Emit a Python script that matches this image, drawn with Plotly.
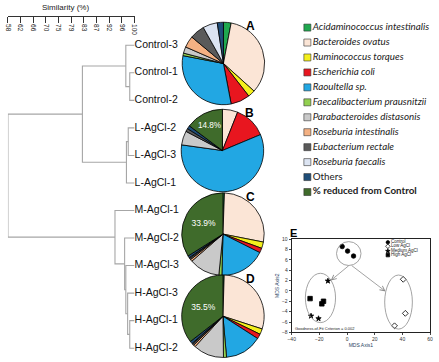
import plotly.graph_objects as go

W, H = 439, 362

# ---------------- Dendrogram data ----------------
leaf_labels = ["Control-3", "Control-1", "Control-2", "L-AgCl-2", "L-AgCl-3", "L-AgCl-1",
               "M-AgCl-1", "M-AgCl-2", "M-AgCl-3", "H-AgCl-3", "H-AgCl-1", "H-AgCl-2"]
merge_a = ["Control-1", "Control-3", "L-AgCl-2", "n3", "n2", "H-AgCl-1", "H-AgCl-3",
           "M-AgCl-3", "M-AgCl-2", "M-AgCl-1", "n5"]
merge_b = ["Control-2", "n1", "L-AgCl-3", "L-AgCl-1", "n4", "H-AgCl-2", "n6",
           "n7", "n8", "n9", "n10"]
merge_sim = [98.4, 97.1, 97.9, 97.3, 82.7, 98.4, 97.7, 97.1, 96.7, 93.5, 58.0]
sim_ticks = ["58", "62", "66", "70", "75", "79", "83", "87", "92", "96", "100"]

# ---------------- Pie data ----------------
species = ["<i>Acidaminococcus intestinalis</i>", "<i>Bacteroides ovatus</i>",
           "<i>Ruminococcus torques</i>", "<i>Escherichia coli</i>", "<i>Raoultella sp.</i>",
           "<i>Faecalibacterium prausnitzii</i>", "<i>Parabacteroides distasonis</i>",
           "<i>Roseburia intestinalis</i>", "<i>Eubacterium rectale</i>",
           "<i>Roseburia faecalis</i>", "Others", "<b>% reduced from Control</b>"]
species_colors = ["#1fa84f", "#fbe5d6", "#f4ef1c", "#e8161f", "#22a7e3", "#92d050",
                  "#c9c9c9", "#f4b183", "#5a5a5a", "#dce4f2", "#1f4e79", "#3f6b2b"]
pie_A = [3.0, 33.6, 2.8, 7.5, 31.0, 1.0, 2.5, 4.5, 5.8, 5.7, 2.4, 0]
pie_B = [0, 6.0, 0, 12.7, 58.5, 0, 5.5, 0, 1.2, 0, 1.3, 14.8]
pie_C = [0.6, 27.5, 2.5, 1.8, 18.0, 1.2, 12.0, 0.8, 0.6, 0.3, 0.8, 33.9]
pie_D = [0.5, 29.5, 2.2, 1.9, 14.5, 1.2, 12.0, 0.8, 0.6, 0.3, 1.0, 35.5]
pie_names = ["A", "B", "C", "D"]

# ---------------- MDS data ----------------
mds_groups = ["Control", "Low AgCl", "Medium AgCl", "High AgCl"]
mds_x = [[-3.5, 0.4, 4.7], [40.6, 42.1, 34.3], [-13.8, -26.0, -20.6], [-26.7, -18.2, -17.0]]
mds_y = [[8.55, 7.67, 6.72], [2.24, -4.32, -6.72], [1.92, -4.83, -5.33], [-1.48, -2.49, -1.99]]
mds_symbols = ["circle", "diamond-open", "star", "square"]
mds_sizes = [4.5, 4.5, 4, 4.5]
gof_text = "Goodness-of-Fit Criterion = 0.002"

fig = go.Figure()

# ---- dendrogram geometry from merges ----
pos = {name: (100.0, i) for i, name in enumerate(leaf_labels)}
dx, dy = [], []
for k, (a, b, s) in enumerate(zip(merge_a, merge_b, merge_sim)):
    xa, ya = pos[a]
    xb, yb = pos[b]
    dx += [xa, s, s, xb, None]
    dy += [ya, ya, yb, yb, None]
    pos[f"n{k + 1}"] = (s, (ya + yb) / 2)

fig.add_trace(go.Scatter(x=dx, y=dy, mode="lines", line=dict(color="#a6a6a6", width=1.1),
                         xaxis="x", yaxis="y", showlegend=False, hoverinfo="skip"))
fig.add_trace(go.Scatter(x=[100] * len(leaf_labels), y=list(range(len(leaf_labels))),
                         mode="text", text=leaf_labels, textposition="middle right",
                         textfont=dict(family="Liberation Sans", size=10.5, color="#111"),
                         xaxis="x", yaxis="y", showlegend=False, cliponaxis=False))

# ---- pies ----
pie_centers = [(223.5, 61.5), (222.5, 150), (223, 235), (223, 318.5)]
R = 42
for name, vals, (cx, cy) in zip(pie_names, [pie_A, pie_B, pie_C, pie_D], pie_centers):
    v = [x if x > 0 else None for x in vals]
    txt = [""] * (len(vals) - 1) + [f"{vals[-1]}%" if vals[-1] > 0 else ""]
    fig.add_trace(go.Pie(labels=species, values=v, text=txt, textinfo="text",
                         textposition="inside", insidetextorientation="horizontal",
                         insidetextfont=dict(color="white", size=8.5, family="Liberation Sans"),
                         marker=dict(colors=species_colors, line=dict(color="black", width=0.8)),
                         sort=False, direction="clockwise", rotation=0, showlegend=False,
                         domain=dict(x=[(cx - R) / W, (cx + R) / W],
                                     y=[1 - (cy + R) / H, 1 - (cy - R) / H])))
    fig.add_annotation(x=(cx + 28) / W, y=1 - (cy - 38) / H, xref="paper", yref="paper",
                       text=f"<b>{name}</b>", showarrow=False, xanchor="center",
                       yanchor="middle",
                       font=dict(family="Liberation Sans", size=12, color="black"))

# ---- main legend (manual) ----
fig.add_trace(go.Scatter(x=[9] * len(species), y=list(range(len(species))),
                         mode="markers+text", text=species, textposition="middle right",
                         marker=dict(symbol="square", size=7, color=species_colors,
                                     line=dict(color="#333", width=0.6)),
                         textfont=dict(family="Lato", size=9.8, color="#222"),
                         xaxis="x3", yaxis="y3", showlegend=False, cliponaxis=False,
                         hoverinfo="skip"))

# ---- MDS panel ----
for g, xs, ys, sym, sz in zip(mds_groups, mds_x, mds_y, mds_symbols, mds_sizes):
    fig.add_trace(go.Scatter(x=xs, y=ys, mode="markers", name=g,
                             marker=dict(symbol=sym, size=sz, color="black",
                                         line=dict(color="black", width=0.8)),
                             xaxis="x2", yaxis="y2", showlegend=False))
# inset legend
leg_y = [9.37, 8.6, 7.67, 6.9]
fig.add_trace(go.Scatter(x=[29.5] * 4, y=leg_y, mode="markers+text", text=mds_groups,
                         textposition="middle right",
                         marker=dict(symbol=mds_symbols, size=3.5, color="black",
                                     line=dict(color="black", width=0.7)),
                         textfont=dict(family="Liberation Sans", size=4.5, color="#222"),
                         xaxis="x2", yaxis="y2", showlegend=False, hoverinfo="skip"))

ell = [(-7.6, 4.9, 10.1, 9.5), (-30.1, -6.1, -8.3, 3.4), (27.2, -7.35, 47.2, 3.06)]
shapes = []
for x0, y0, x1, y1 in ell:
    shapes.append(dict(type="circle", xref="x2", yref="y2", x0=x0, y0=y0, x1=x1, y1=y1,
                       line=dict(color="#8c8c8c", width=0.8)))
for tx, ty in [(-11.8, 2.0), (27.9, -0.1)]:
    fig.add_annotation(x=tx, y=ty, ax=2.3, ay=5.1, xref="x2", yref="y2", axref="x2",
                       ayref="y2", showarrow=True, arrowhead=5, arrowsize=1.2,
                       arrowwidth=0.8, arrowcolor="#8c8c8c", text="")
fig.add_annotation(x=-39, y=-7.3, xref="x2", yref="y2", text=gof_text, showarrow=False,
                   xanchor="left", font=dict(family="Liberation Sans", size=4, color="#222"))
fig.add_annotation(x=295 / W, y=1 - 234 / H, xref="paper", yref="paper", text="<b>E</b>",
                   showarrow=False, xanchor="center", yanchor="middle",
                   font=dict(family="Liberation Sans", size=11, color="black"))
fig.add_annotation(x=63 / W, y=1 - 5 / H, xref="paper", yref="paper", text="Similarity (%)",
                   showarrow=False, xanchor="center", yanchor="middle",
                   font=dict(family="Liberation Sans", size=8, color="#222"))

axfont = dict(family="Liberation Sans", size=5, color="#333")
fig.update_layout(
    width=W, height=H, margin=dict(l=0, r=0, t=0, b=0),
    paper_bgcolor="white", plot_bgcolor="rgba(0,0,0,0)", shapes=shapes,
    xaxis=dict(domain=[4 / W, 133 / W], range=[58, 100], side="bottom", anchor="free",
               position=1 - 13 / H,
               tickvals=[58 + i * 42 / (len(sim_ticks) - 1) for i in range(len(sim_ticks))],
               ticktext=sim_ticks, tickangle=90, ticks="outside", ticklen=6,
               tickcolor="#333", showline=True,
               linecolor="#333", linewidth=1, showgrid=False, zeroline=False,
               tickfont=dict(family="Liberation Sans", size=6.5, color="#222")),
    yaxis=dict(domain=[0, 1 - 13 / H], range=[11 + 11 / 28, -30 / 28], visible=False),
    xaxis2=dict(domain=[293 / W, 434 / W], range=[-40, 60], anchor="y2",
                tickvals=[-40, -20, 0, 20, 40, 60], ticks="outside", ticklen=2,
                showline=True, mirror=True, linecolor="#222", linewidth=1,
                showgrid=False, zeroline=False, tickfont=axfont,
                title=dict(text="MDS Axis1", font=dict(family="Liberation Sans", size=5),
                           standoff=2)),
    yaxis2=dict(domain=[1 - 335 / H, 1 - 240 / H], range=[-8, 10], anchor="x2",
                dtick=2, ticks="outside", ticklen=2, showline=True, mirror=True,
                linecolor="#222", linewidth=1, showgrid=False, zeroline=False,
                tickfont=axfont,
                title=dict(text="MDS Axis2", font=dict(family="Liberation Sans", size=5),
                           standoff=2)),
    xaxis3=dict(domain=[300 / W, 1], range=[0, 139], anchor="y3", visible=False),
    yaxis3=dict(domain=[1 - 200 / H, 1 - 17 / H], range=[175 / 15.2, -8 / 15.2],
                anchor="x3", visible=False),
)

fig.write_html("out.html", config={"displayModeBar": False},
               post_script="document.body.style.margin='0px';")
